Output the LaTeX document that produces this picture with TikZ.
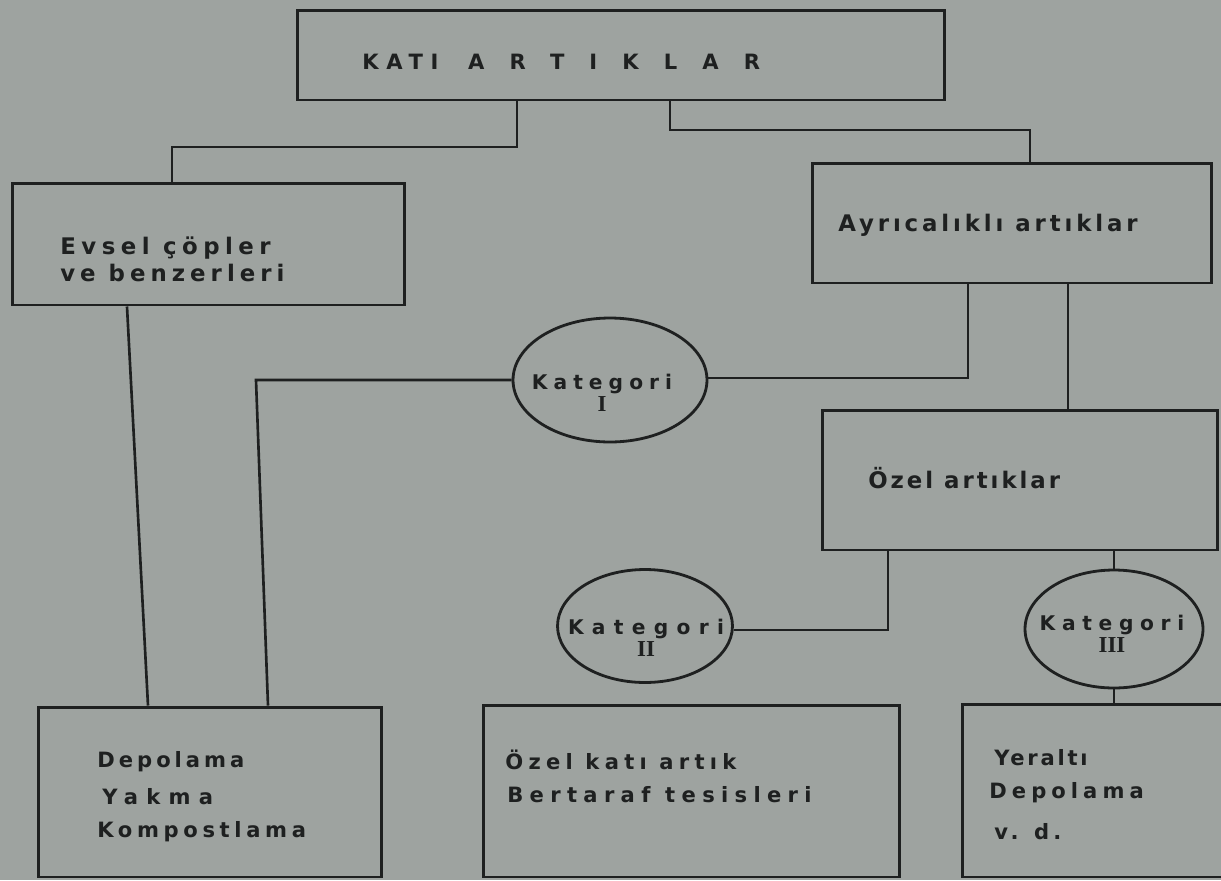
\documentclass[tikz,border=0pt]{standalone}
\usepackage{fontspec}
\setmainfont{DejaVu Sans}
\usetikzlibrary{shapes.geometric}
\definecolor{bg}{RGB}{158,163,160}
\definecolor{ink}{RGB}{30,32,32}
\newfontfamily\lab{DejaVu Sans}
\newfontfamily\numfont{Liberation Serif}
\newcommand{\ls}[1]{\addfontfeature{LetterSpace=#1}}
\tikzset{
  boxnode/.style={draw=ink, line width=1.7pt, inner sep=0pt},
  ovalnode/.style={draw=ink, ellipse, line width=1.6pt, inner sep=0pt},
  ovaltxt/.style={inner sep=0pt, align=center, text=ink,
    font=\lab\bfseries\fontsize{11.5}{12.5}\selectfont},
  txt/.style={anchor=west, inner sep=0pt, text=ink, font=\lab\bfseries\fontsize{13}{15}\selectfont},
  smalltxt/.style={anchor=west, inner sep=0pt, text=ink, font=\lab\bfseries\fontsize{12}{14}\selectfont},
  link/.style={draw=ink, line width=1.5pt}
}
\begin{document}
\begin{tikzpicture}[x=0.02cm,y=-0.02cm]
\fill[bg] (0,0) rectangle (1221,880);
\useasboundingbox (0,0) rectangle (1221,880);
\begin{scope}
\clip (0,0) rectangle (1221,880);
% boxes
\node[boxnode, minimum width=12.96cm, minimum height=1.8cm] (top) at (621,55) {};
\node[boxnode, minimum width=7.86cm, minimum height=2.44cm] (evsel) at (208.5,244) {};
\node[boxnode, minimum width=8cm, minimum height=2.4cm] (ayr) at (1012,223) {};
\node[boxnode, minimum width=7.92cm, minimum height=2.8cm] (ozel) at (1020,480) {};
\node[boxnode, minimum width=6.88cm, minimum height=3.4cm] (dep) at (210,792) {};
\node[boxnode, minimum width=8.34cm, minimum height=3.44cm] (okat) at (691.5,791) {};
\node[boxnode, minimum width=5.56cm, minimum height=3.46cm] (yer) at (1101,790.5) {};
% ellipses
\node[ovalnode, minimum width=3.88cm, minimum height=2.48cm] (k1) at (610,380) {};
\node[ovalnode, minimum width=3.5cm, minimum height=2.26cm] (k2) at (645,626) {};
\node[ovalnode, minimum width=3.56cm, minimum height=2.36cm] (k3) at (1114,629) {};
\node[ovaltxt] (k1t) at (602,393) {{\ls{30}Kategori}\\{\numfont\bfseries\fontsize{13}{13}\selectfont I}};
\node[ovaltxt] (k2t) at (646,638) {{\ls{41}Kategori}\\{\numfont\bfseries\fontsize{13}{13}\selectfont II}};
\node[ovaltxt] (k3t) at (1112,634) {{\ls{33}Kategori}\\{\numfont\bfseries\fontsize{13}{13}\selectfont III}};
% texts
\node[txt, font=\lab\bfseries\fontsize{12}{14}\selectfont] (ttop) at (362,62)
  {{\ls{36}KATI}\hspace{17pt}{\ls{119}ARTIKLAR}};
\node[txt, font=\lab\bfseries\fontsize{13}{15}\selectfont\ls{24}] (tev1) at (60,248) {Evsel çöpler};
\node[txt, font=\lab\bfseries\fontsize{13}{15}\selectfont\ls{22}] (tev2) at (60,273) {ve benzerleri};
\node[txt, font=\lab\bfseries\fontsize{13}{15}\selectfont\ls{17}] (tayr) at (838,225) {Ayrıcalıklı artıklar};
\node[txt, font=\lab\bfseries\fontsize{13}{15}\selectfont\ls{13}] (toz) at (868,478) {Özel artıklar};
\node[smalltxt, font=\lab\bfseries\fontsize{12}{14}\selectfont\ls{19}] (td1) at (97,762) {Depolama};
\node[smalltxt, font=\lab\bfseries\fontsize{12}{14}\selectfont\ls{39}] (td2) at (102,797) {Yakma};
\node[smalltxt, font=\lab\bfseries\fontsize{12}{14}\selectfont\ls{22}] (td3) at (97,832) {Kompostlama};
\node[smalltxt, font=\lab\bfseries\fontsize{12}{14}\selectfont\ls{25}] (to1) at (505,760) {Özel katı artık};
\node[smalltxt, font=\lab\bfseries\fontsize{12}{14}\selectfont\ls{30}] (to2) at (507,795) {Bertaraf\hspace{0.7em}tesisleri};
\node[smalltxt, font=\lab\bfseries\fontsize{12}{14}\selectfont\ls{13}] (ty1) at (994,758) {Yeraltı};
\node[smalltxt, font=\lab\bfseries\fontsize{12}{14}\selectfont\ls{24}] (ty2) at (989,793) {Depolama};
\node[smalltxt, font=\lab\bfseries\fontsize{12}{14}\selectfont\ls{20}] (ty3) at (994,832) {v. d.};
% connector coordinates
\coordinate (a1) at (517,147);
\coordinate (a2) at (172,147);
\coordinate (b1) at (670,130);
\coordinate (b2) at (1030,130);
\coordinate (c1) at (968,378);
\coordinate (c2) at (1068,300);
\coordinate (d1) at (256,380);
\coordinate (d2) at (268,700);
\coordinate (e1) at (127,300);
\coordinate (e2) at (148,700);
\coordinate (f1) at (888,630);
% connectors
\draw[link] (top.south -| a1) -- (a1) -- (a2) -- (evsel.north -| a2);
\draw[link] (top.south -| b1) -- (b1) -- (b2) -- (ayr.north -| b2);
\draw[link] (ayr.south -| c1) -- (c1) -- (k1.east |- c1);
\draw[link] (ayr.south -| c2) -- (ozel.north -| c2);
\draw[link] (k1.west) -- (k1.west -| d1) -- (dep.north -| d2);
\draw[link] (evsel.south -| e1) -- (dep.north -| e2);
\draw[link] (ozel.south -| k3.north) -- (k3.north);
\draw[link] (ozel.south -| f1) -- (f1) -- (k2.east |- f1);
\draw[link] (k3.south) -- (yer.north -| k3.south);
\end{scope}
\end{tikzpicture}
\end{document}
